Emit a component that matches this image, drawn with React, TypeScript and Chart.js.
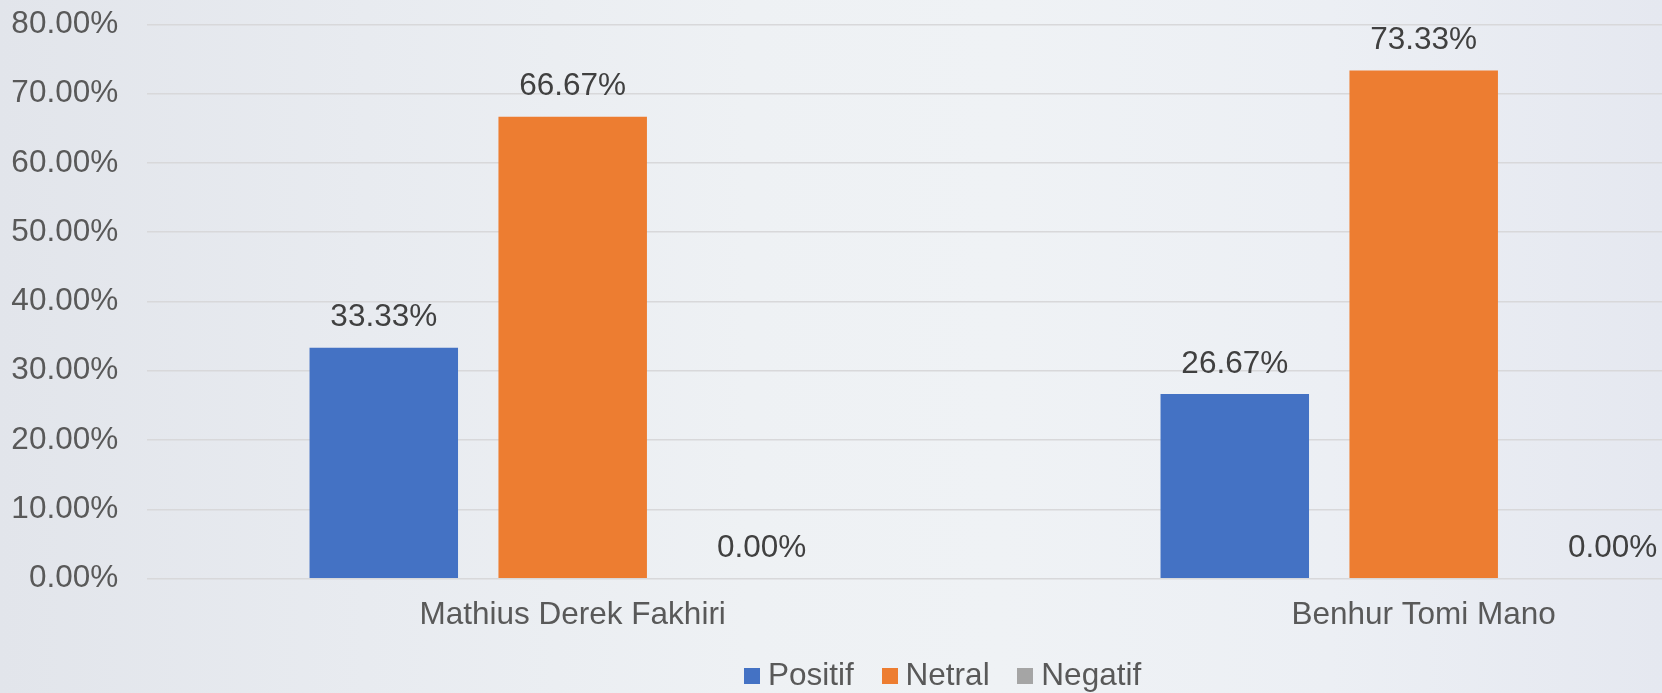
import React, { useEffect, useRef } from "react";
import { Chart, registerables } from "chart.js";

Chart.register(...registerables);

const categories = ["Mathius Derek Fakhiri", "Benhur Tomi Mano"];
const seriesNames = ["Positif", "Netral", "Negatif"];
const positif = [33.33, 26.67];
const netral = [66.67, 73.33];
const negatif = [0, 0];
const seriesColors = ["#4472C4", "#ED7D31", "#A5A5A5"];
const yTicks = [0, 10, 20, 30, 40, 50, 60, 70, 80];

const FONT = "'Liberation Sans', Arial, sans-serif";
const FS = 31.5;
const CANVAS_W = 1893;
const PLOT_RIGHT = 1849.2;

const valueLabels = {
  id: "valueLabels",
  afterDatasetsDraw(chart: any) {
    const ctx = chart.ctx;
    ctx.save();
    ctx.font = `${FS}px ${FONT}`;
    ctx.fillStyle = "#404040";
    ctx.textAlign = "center";
    ctx.textBaseline = "middle";
    chart.data.datasets.forEach((ds: any, i: number) => {
      const meta = chart.getDatasetMeta(i);
      meta.data.forEach((el: any, j: number) => {
        const v = ds.data[j] as number;
        ctx.fillText(v.toFixed(2) + "%", el.x, el.y - 30);
      });
    });
    ctx.restore();
  },
};

function makeSquare(color: string) {
  const c = document.createElement("canvas");
  c.width = 16;
  c.height = 16;
  const g = c.getContext("2d");
  if (g) {
    g.fillStyle = color;
    g.fillRect(0, 0, 16, 16);
  }
  return c;
}

export default function App() {
  const ref = useRef<HTMLCanvasElement | null>(null);
  useEffect(() => {
    if (!ref.current) return;
    const data = [positif, netral, negatif];
    const squares = seriesColors.map(makeSquare);
    const defaultGen = (Chart as any).defaults.plugins.legend.labels.generateLabels;
    const chart = new Chart(ref.current, {
      type: "bar",
      data: {
        labels: categories,
        datasets: seriesNames.map((name, i) => ({
          label: name,
          data: data[i],
          backgroundColor: seriesColors[i],
          borderWidth: 0,
          barPercentage: 0.786,
          categoryPercentage: 0.666,
        })),
      },
      options: {
        responsive: false,
        animation: false,
        devicePixelRatio: 1,
        layout: { padding: { top: 24.3, right: 0, left: 0, bottom: 0 } },
        plugins: {
          tooltip: { enabled: false },
          legend: {
            position: "bottom",
            labels: {
              usePointStyle: true,
              pointStyleWidth: 0.5,
              boxHeight: 16,
              padding: 35.5,
              color: "#595959",
              font: { family: FONT, size: FS },
              generateLabels: (ch: any) =>
                defaultGen(ch).map((it: any) => ({ ...it, pointStyle: squares[it.datasetIndex] })),
            },
          },
        },
        scales: {
          x: {
            grid: { display: false, drawTicks: false },
            border: { display: false },
            ticks: { color: "#595959", font: { family: FONT, size: FS }, padding: 17.4, maxRotation: 0 },
            afterFit: (s: any) => {
              s.height = 46.3;
              s.paddingRight = CANVAS_W - PLOT_RIGHT;
            },
          },
          y: {
            min: yTicks[0],
            max: yTicks[yTicks.length - 1],
            afterBuildTicks: (s: any) => {
              s.ticks = yTicks.map((v) => ({ value: v }));
            },
            grid: { color: "#d8d8da", lineWidth: 1.5, drawTicks: false },
            border: { display: false },
            ticks: {
              color: "#595959",
              font: { family: FONT, size: FS },
              padding: 29,
              callback: (v: any) => Number(v).toFixed(2) + "%",
            },
            afterFit: (s: any) => {
              s.width = 147.2;
              s.paddingTop = 0;
              s.paddingBottom = 0;
            },
          },
        },
      },
      plugins: [valueLabels],
    });
    return () => chart.destroy();
  }, []);

  return (
    <div
      style={{
        position: "fixed",
        left: 0,
        top: 0,
        width: 1662,
        height: 693,
        overflow: "hidden",
        background:
          "linear-gradient(90deg, #e2e5eb 0%, #e8ebf0 22%, #eef1f4 45%, #eff2f5 60%, #eceff4 80%, #e5e8f0 100%)",
      }}
    >
      <canvas ref={ref} width={CANVAS_W} height={702} style={{ display: "block" }} />
    </div>
  );
}
